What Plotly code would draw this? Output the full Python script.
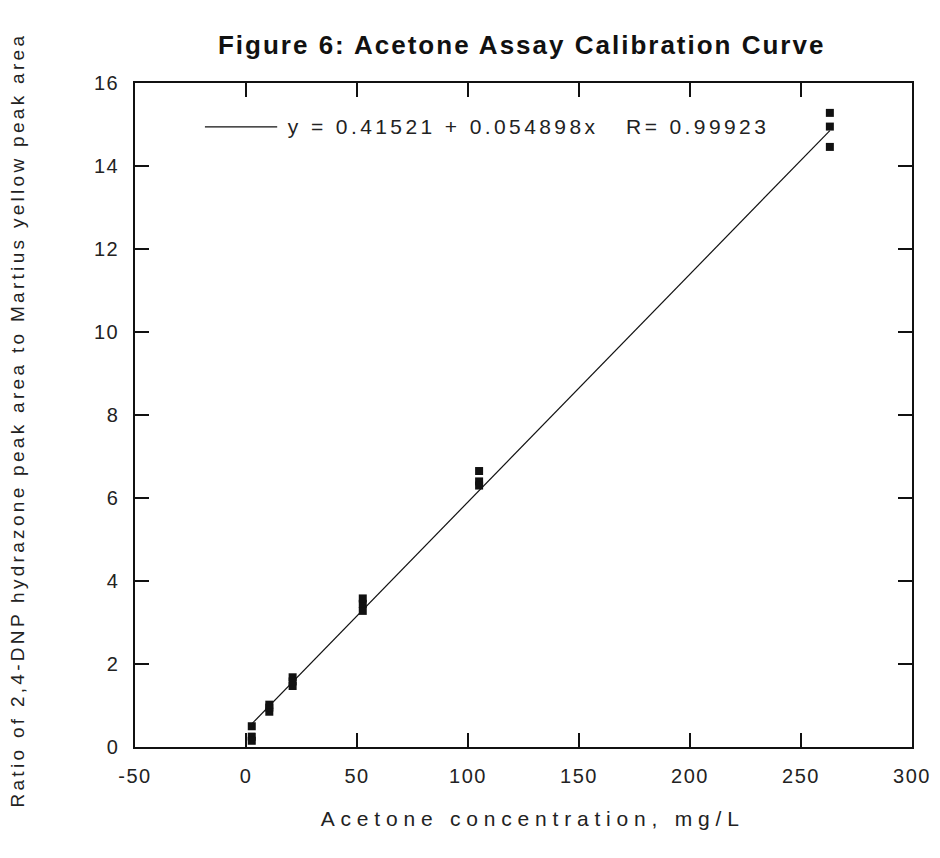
import plotly.graph_objects as go

# ---- data ----
conc = [2.6, 2.6, 2.6, 10.5, 10.5, 10.5, 21, 21, 21, 52.6, 52.6, 52.6,
        105, 105, 105, 263, 263, 263]
ratio = [0.50, 0.25, 0.15, 0.85, 0.95, 1.02, 1.47, 1.58, 1.68, 3.28, 3.45, 3.58,
         6.65, 6.40, 6.30, 15.28, 14.95, 14.46]
intercept = 0.41521
slope = 0.054898
r_value = 0.99923
x_ticks = [-50, 0, 50, 100, 150, 200, 250, 300]
y_ticks = [0, 2, 4, 6, 8, 10, 12, 14, 16]

title_text = "Figure 6: Acetone Assay Calibration Curve"
x_title = "Acetone concentration, mg/L"
y_title = "Ratio of 2,4-DNP hydrazone peak area to Martius yellow peak area"
fit_label = f"y = {intercept} + {slope}x   R= {r_value}"

fit_x = [min(conc), max(conc)]
fit_y = [intercept + slope * v for v in fit_x]

FONT = "Liberation Sans, Arial, sans-serif"

fig = go.Figure()
fig.add_trace(go.Scatter(x=fit_x, y=fit_y, mode="lines",
                         line=dict(color="#111", width=1.2), showlegend=False,
                         hoverinfo="skip"))
fig.add_trace(go.Scatter(x=conc, y=ratio, mode="markers",
                         marker=dict(symbol="square", size=8, color="#111",
                                     line=dict(width=0)),
                         showlegend=False))

axis_common = dict(showgrid=False, zeroline=False, showline=True, linecolor="#111",
                   linewidth=1.5, mirror="allticks", ticks="inside", ticklen=14,
                   tickwidth=1.5, tickcolor="#111",
                   tickfont=dict(family=FONT, size=20, color="#222"))

fig.update_xaxes(range=[-50, 300], tickvals=x_ticks, ticktext=[str(v) for v in x_ticks],
                 ticklabelstandoff=10, **axis_common)
fig.update_yaxes(range=[0, 16], tickvals=y_ticks, ticktext=[str(v) for v in y_ticks],
                 ticklabelstandoff=10, **axis_common)

# legend key
fig.add_shape(type="line", xref="paper", yref="paper", x0=0.090, x1=0.183,
              y0=0.934, y1=0.934, line=dict(color="#111", width=1.2))

fig.update_layout(
    width=940, height=858,
    margin=dict(l=135, r=28, t=83, b=111),
    paper_bgcolor="white", plot_bgcolor="white",
    title=dict(text=title_text, x=0.555, xanchor="center", y=0.948, yanchor="middle",
               font=dict(family=FONT, size=26, color="#111", weight="bold")),
    annotations=[
        dict(text=fit_label, xref="paper", yref="paper", x=0.506, y=0.934,
             xanchor="center", yanchor="middle", showarrow=False,
             font=dict(family=FONT, size=21, color="#222")),
        dict(text=x_title, xref="paper", yref="paper", x=0.511, y=-0.107,
             xanchor="center", yanchor="middle", showarrow=False,
             font=dict(family=FONT, size=21, color="#222")),
        dict(text=y_title, xref="paper", yref="paper", x=-0.1506, y=0.4925,
             xanchor="center", yanchor="middle", showarrow=False, textangle=-90,
             font=dict(family=FONT, size=19, color="#222")),
    ],
)

post = """
var gd = document.getElementById('{plot_id}');
function sp(sel, v){ gd.querySelectorAll(sel).forEach(function(e){ e.style.letterSpacing = v; }); }
sp('.gtitle', '2px');
var ann = gd.querySelectorAll('.annotation-text');
if (ann.length >= 3) {
  ann[0].style.letterSpacing = '3.4px';
  ann[1].style.letterSpacing = '5.8px';
  ann[2].style.letterSpacing = '3.3px';
}
sp('.xtick text', '1.5px');
sp('.ytick text', '1.5px');
"""

fig.write_html("out.html", post_script=post)
